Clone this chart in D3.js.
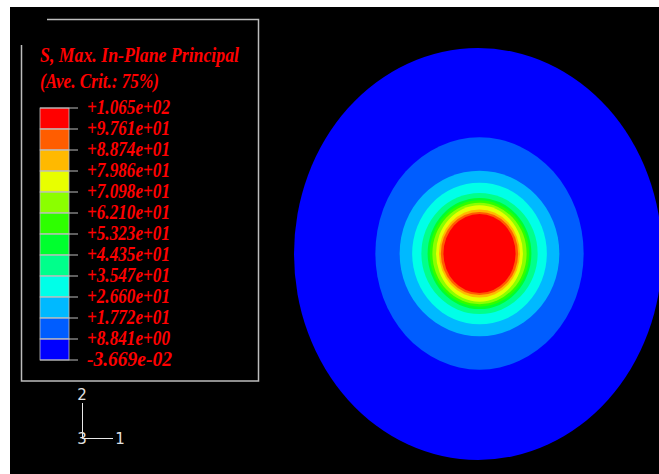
<!DOCTYPE html>
<html>
<head>
<meta charset="utf-8">
<script src="https://cdn.jsdelivr.net/npm/d3@7"></script>
<style>
  html, body { margin: 0; padding: 0; background: #fff; }
  svg { display: block; }
</style>
</head>
<body>
<svg id="chart" width="659" height="474"></svg>
<script>
// legend values, top to bottom
const legendValues = ["+1.065e+02", "+9.761e+01", "+8.874e+01", "+7.986e+01", "+7.098e+01",
  "+6.210e+01", "+5.323e+01", "+4.435e+01", "+3.547e+01", "+2.660e+01",
  "+1.772e+01", "+8.841e+00", "-3.669e-02"];

// contour colours, highest band first
const bandColors = ["#ff0000", "#ff5d00", "#ffb900", "#e8ff00", "#8bff00", "#2eff00",
  "#00ff2e", "#00ff8b", "#00ffe8", "#00b9ff", "#005dff", "#0000ff"];

// outer edge of each band (model units, mm), lowest band first
const bandRx = [50, 28.3, 21.7, 18.3, 15.8, 14.1, 13.5, 12.8, 11.8, 11.0, 10.5, 9.8];
const bandRy = [50, 28.2, 20.1, 17.2, 14.7, 13.5, 12.9, 12.3, 11.7, 10.7, 10.1, 9.6];

const titleLines = ["S, Max. In-Plane Principal", "(Ave. Crit.: 75%)"];
const triadLabels = ["1", "2", "3"];

const svg = d3.select("#chart");

// black viewport
svg.append("rect")
  .attr("x", 10).attr("y", 7)
  .attr("width", 649).attr("height", 467)
  .attr("fill", "#000");

// ***** contour plot *****
const xScale = d3.scaleLinear().domain([-50, 50]).range([294, 662]);
const yScale = d3.scaleLinear().domain([-50, 50]).range([460, 48]);

const bands = bandRx.map(function(rx, i) {
  return { rx: rx, ry: bandRy[i], color: bandColors[bandColors.length - 1 - i] };
});

svg.append("g")
  .selectAll("ellipse")
  .data(bands)
  .enter()
  .append("ellipse")
  .attr("cx", function(d, i) { return xScale(0) + (i > 0 ? 1.5 : 0); })
  .attr("cy", function(d, i) { return yScale(0) - (i > 0 ? 0.5 : 0); })
  .attr("rx", function(d) { return xScale(d.rx) - xScale(0); })
  .attr("ry", function(d) { return yScale(0) - yScale(d.ry); })
  .attr("fill", function(d) { return d.color; });

// ***** legend *****
const legend = svg.append("g");
const lineColor = "#bdbdbd";

// open frame
legend.append("path")
  .attr("d", "M47,19.5 H258.5 V381 H21.5 V45")
  .attr("fill", "none")
  .attr("stroke", lineColor)
  .attr("stroke-width", 1.5);

const legendY = d3.scaleLinear().domain([0, bandColors.length]).range([108, 360]);

legend.selectAll(".swatch")
  .data(bandColors)
  .enter()
  .append("rect")
  .attr("class", "swatch")
  .attr("x", 40)
  .attr("y", function(d, i) { return legendY(i); })
  .attr("width", 29)
  .attr("height", function(d, i) { return legendY(i + 1) - legendY(i); })
  .attr("fill", function(d) { return d; })
  .attr("stroke", lineColor)
  .attr("stroke-width", 0.8);

legend.selectAll(".tick")
  .data(legendValues)
  .enter()
  .append("line")
  .attr("class", "tick")
  .attr("x1", 40).attr("x2", 78)
  .attr("y1", function(d, i) { return legendY(i); })
  .attr("y2", function(d, i) { return legendY(i); })
  .attr("stroke", lineColor)
  .attr("stroke-width", 1);

legend.selectAll(".val")
  .data(legendValues)
  .enter()
  .append("text")
  .attr("class", "val")
  .attr("x", 87)
  .attr("y", function(d, i) { return legendY(i) + 6; })
  .attr("textLength", function(d) { return d.charAt(0) === "-" ? 85 : 83; })
  .attr("lengthAdjust", "spacingAndGlyphs")
  .attr("fill", "#ff0000")
  .style("font-family", "'Liberation Serif', 'DejaVu Serif', serif")
  .style("font-style", "italic")
  .style("font-weight", "bold")
  .style("font-size", "20.5px")
  .text(function(d) { return d; });

legend.selectAll(".title")
  .data(titleLines)
  .enter()
  .append("text")
  .attr("class", "title")
  .attr("x", 40)
  .attr("y", function(d, i) { return 62 + i * 26; })
  .attr("textLength", function(d, i) { return i === 0 ? 199 : 119; })
  .attr("lengthAdjust", "spacingAndGlyphs")
  .attr("fill", "#ff0000")
  .style("font-family", "'Liberation Serif', 'DejaVu Serif', serif")
  .style("font-style", "italic")
  .style("font-weight", "bold")
  .style("font-size", "20.5px")
  .text(function(d) { return d; });

// ***** axis triad *****
const triad = svg.append("g").attr("stroke", "#e8e8e8");
triad.append("line").attr("x1", 82.5).attr("y1", 403).attr("x2", 82.5).attr("y2", 438.5);
triad.append("line").attr("x1", 82.5).attr("y1", 438.5).attr("x2", 113).attr("y2", 438.5);

const triadPos = [[120, 439], [82, 395], [82, 439]];
svg.selectAll(".triadLabel")
  .data(triadLabels)
  .enter()
  .append("text")
  .attr("class", "triadLabel")
  .attr("x", function(d, i) { return triadPos[i][0]; })
  .attr("y", function(d, i) { return triadPos[i][1]; })
  .attr("text-anchor", "middle")
  .attr("dominant-baseline", "central")
  .attr("fill", "#e0e0e0")
  .style("font-family", "'DejaVu Sans', sans-serif")
  .style("font-size", "15px")
  .text(function(d) { return d; });
</script>
</body>
</html>
